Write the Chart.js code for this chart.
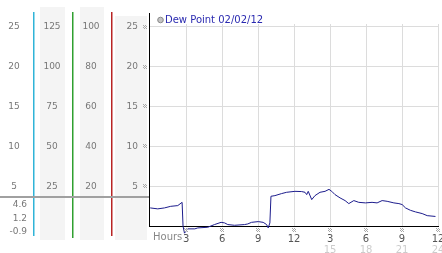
<!DOCTYPE html>
<html>
<head>
<meta charset="utf-8">
<script src="https://cdn.jsdelivr.net/npm/chart.js@4"></script>
<style>
  body { margin: 0; background: #fff; }
  canvas { display: block; }
</style>
</head>
<body>
<canvas id="dewChart" width="442" height="253"></canvas>
<script>
// dew point readings for one day, hours since midnight
const hours = [0, 0.63, 1.19, 1.71, 2.30, 2.66, 2.74, 2.86, 3.13, 3.72, 3.97, 4.80, 5.36, 5.91, 6.20, 6.47,
  7.03, 7.87, 8.14, 8.45, 9.01, 9.42, 9.71, 9.84, 9.98, 10.07, 10.40, 10.96, 11.38, 12.07, 12.63, 12.91,
  13.05, 13.18, 13.47, 13.74, 14.16, 14.58, 14.91, 15.14, 15.41, 15.83, 16.25, 16.56, 16.98, 17.39, 17.95,
  18.50, 18.92, 19.34, 19.76, 20.32, 20.74, 21.01, 21.29, 21.70, 22.12, 22.68, 23.10, 23.79];
const dewPoint = [2.27, 2.15, 2.27, 2.47, 2.56, 2.97, -0.04, -0.9, -0.36, -0.36, -0.24, -0.16, 0.18, 0.46, 0.39, 0.18,
  0.09, 0.18, 0.26, 0.46, 0.55, 0.46, 0.18, -0.24, 0.39, 3.73, 3.81, 4.07, 4.23, 4.35, 4.32, 4.23,
  3.94, 4.35, 3.31, 3.81, 4.23, 4.35, 4.6, 4.35, 3.94, 3.53, 3.19, 2.81, 3.19, 2.97, 2.90,
  2.97, 2.90, 3.19, 3.10, 2.90, 2.81, 2.69, 2.27, 1.97, 1.77, 1.56, 1.30, 1.2];

const yTicks = [5, 10, 15, 20, 25];
const col1Labels = ['5', '10', '15', '20', '25'];
const col2Labels = ['25', '50', '75', '100', '125'];
const col3Labels = ['20', '40', '60', '80', '100'];
const statLabels = ['4.6', '1.2', '-0.9'];

const xTicks = [3, 6, 9, 12, 15, 18, 21, 24];
const xLabels = ['3', '6', '9', '12', '3', '6', '9', '12'];
const xLabels2 = ['', '', '', '', '15', '18', '21', '24'];

const FONT = '"DejaVu Sans", Verdana, sans-serif';

function mark(ctx, x, y) {
  // the little grey checkered tick glyph
  ctx.save();
  ctx.fillStyle = '#a8a8a8';
  const x0 = Math.round(x) - 2, y0 = Math.round(y) - 2;
  [[0, 0], [2, 0], [1, 1], [3, 1], [0, 2], [2, 2], [1, 3], [3, 3]].forEach(([dx, dy]) => {
    ctx.fillRect(x0 + dx, y0 + dy, 1, 1);
  });
  ctx.restore();
}

const sidePanels = {
  id: 'sidePanels',
  beforeDraw(chart) {
    const ctx = chart.ctx;
    const y = chart.scales.y;
    ctx.save();
    ctx.fillStyle = '#f4f4f4';
    ctx.fillRect(40, 7, 25, 233);
    ctx.fillRect(80, 7, 24, 233);
    ctx.fillRect(115, 16, 32, 224);

    const lines = [[33, '#30b4d8', 236], [72, '#30a030', 238], [111, '#b82424', 236]];
    lines.forEach(([x, c, b]) => {
      ctx.fillStyle = c;
      ctx.fillRect(x, 12, 1.5, b - 12);
    });

    ctx.fillStyle = '#a0a0a0';
    ctx.fillRect(0, 196, 149, 2);

    ctx.font = '9px ' + FONT;
    ctx.fillStyle = '#777';
    ctx.textBaseline = 'middle';
    yTicks.forEach((v, i) => {
      const py = y.getPixelForValue(v);
      ctx.textAlign = 'center';
      ctx.fillText(col1Labels[i], 14, py);
      ctx.fillText(col2Labels[i], 52, py);
      ctx.fillText(col3Labels[i], 91, py);
      ctx.textAlign = 'right';
      ctx.fillText(col1Labels[i], 138, py);
      mark(ctx, 145, py);
    });

    ctx.textAlign = 'right';
    [205, 219, 232].forEach((py, i) => ctx.fillText(statLabels[i], 27, py));
    ctx.restore();
  },
  afterDraw(chart) {
    const ctx = chart.ctx;
    const x = chart.scales.x;
    const area = chart.chartArea;
    ctx.save();
    // axis line continues above the plot
    ctx.strokeStyle = '#000';
    ctx.lineWidth = 1;
    ctx.beginPath();
    ctx.moveTo(area.left + 0.5, 13);
    ctx.lineTo(area.left + 0.5, area.top);
    ctx.stroke();

    ctx.textBaseline = 'middle';
    ctx.font = '10px ' + FONT;
    ctx.fillStyle = '#888';
    ctx.textAlign = 'left';
    ctx.fillText('Hours', 153, 237);

    xTicks.forEach((v, i) => {
      const px = x.getPixelForValue(v);
      mark(ctx, px, 230);
      ctx.font = '10px ' + FONT;
      ctx.textAlign = 'center';
      ctx.fillStyle = '#555';
      ctx.fillText(xLabels[i], px, 239);
      ctx.fillStyle = '#ccc';
      ctx.fillText(xLabels2[i], px, 250);
    });

    // legend
    ctx.beginPath();
    ctx.arc(160.5, 20, 2.8, 0, Math.PI * 2);
    ctx.fillStyle = '#c4c4c4';
    ctx.fill();
    ctx.strokeStyle = '#888';
    ctx.stroke();
    ctx.font = '10px ' + FONT;
    ctx.fillStyle = '#2a2ab0';
    ctx.textAlign = 'left';
    ctx.fillText(chart.data.datasets[0].label, 165, 20);
    ctx.restore();
  }
};

new Chart(document.getElementById('dewChart'), {
  type: 'line',
  data: {
    datasets: [{
      label: 'Dew Point 02/02/12',
      data: hours.map((h, i) => ({ x: h, y: dewPoint[i] })),
      borderColor: '#1c1c8c',
      borderWidth: 1,
      pointRadius: 0,
      tension: 0,
      clip: false
    }]
  },
  options: {
    responsive: false,
    animation: false,
    layout: { padding: { left: 149, right: 4, top: 24, bottom: 27 } },
    plugins: { legend: { display: false }, tooltip: { enabled: false } },
    scales: {
      x: {
        type: 'linear',
        min: -0.1,
        max: 24,
        afterBuildTicks: s => { s.ticks = xTicks.map(v => ({ value: v })); },
        ticks: { display: false },
        grid: { color: '#dcdcdc', drawTicks: false, tickLength: 0 },
        border: { color: '#000', width: 1 }
      },
      y: {
        min: 0,
        max: 25.35,
        afterBuildTicks: s => { s.ticks = yTicks.map(v => ({ value: v })); },
        ticks: { display: false },
        grid: { color: '#dcdcdc', drawTicks: false, tickLength: 0 },
        border: { color: '#000', width: 1 }
      }
    }
  },
  plugins: [sidePanels]
});
</script>
</body>
</html>
